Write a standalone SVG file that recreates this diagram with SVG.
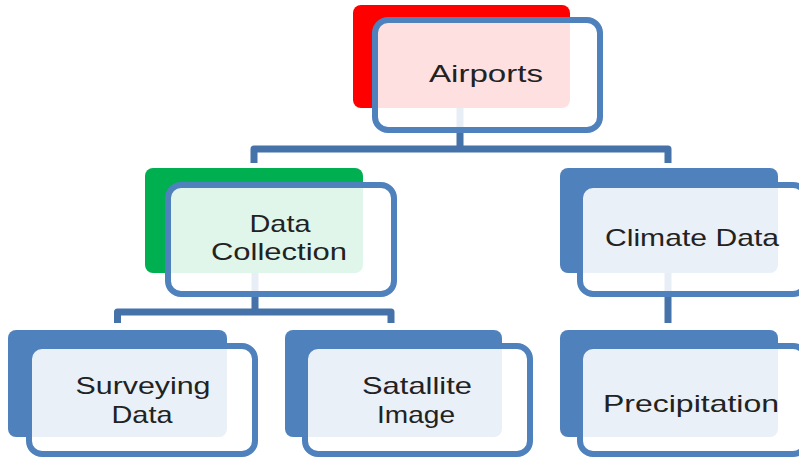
<svg xmlns="http://www.w3.org/2000/svg" width="799" height="463" viewBox="0 0 799 463">
<style>
.back{stroke:none}
.front{fill:#ffffff;fill-opacity:0.88;stroke:#4f81bd;stroke-width:6}
.lbl{font-family:"Liberation Sans",Arial,sans-serif;font-size:24px;fill:#222222;text-anchor:middle}
.conn{fill:none;stroke:#4572a9;stroke-width:7;stroke-linejoin:round}
</style>
<rect width="799" height="463" fill="#ffffff"/>
<g id="connectors">
<path class="conn" d="M460,108 V149 M254,163 V149 H668 V163"/>
<path class="conn" d="M255,273 V312 M117.5,323 V312 H391 V323"/>
<path class="conn" d="M668,273 V323"/>
</g>
<g id="airports">
<rect class="back" x="353" y="5" width="217" height="103" rx="8" fill="#ff0000"/>
<rect class="front" x="375" y="20" width="225" height="110" rx="13"/>
<text class="lbl" x="486" y="82" textLength="114" lengthAdjust="spacingAndGlyphs">Airports</text>
</g>
<g id="data-collection">
<rect class="back" x="145" y="168" width="218" height="105" rx="8" fill="#00b050"/>
<rect class="front" x="168" y="185" width="226" height="109" rx="13"/>
<text class="lbl" x="280" y="232" textLength="61" lengthAdjust="spacingAndGlyphs">Data</text>
<text class="lbl" x="279" y="260" textLength="136" lengthAdjust="spacingAndGlyphs">Collection</text>
</g>
<g id="climate-data">
<rect class="back" x="560" y="168" width="218" height="105" rx="8" fill="#4f81bd"/>
<rect class="front" x="580" y="185" width="226" height="109" rx="13"/>
<text class="lbl" x="692" y="246" textLength="174" lengthAdjust="spacingAndGlyphs">Climate Data</text>
</g>
<g id="surveying-data">
<rect class="back" x="8" y="330" width="219" height="107" rx="8" fill="#4f81bd"/>
<rect class="front" x="29" y="346" width="226" height="108" rx="13"/>
<text class="lbl" x="143" y="394" textLength="135" lengthAdjust="spacingAndGlyphs">Surveying</text>
<text class="lbl" x="142" y="423" textLength="61" lengthAdjust="spacingAndGlyphs">Data</text>
</g>
<g id="satallite-image">
<rect class="back" x="285" y="330" width="217" height="107" rx="8" fill="#4f81bd"/>
<rect class="front" x="305" y="346" width="225" height="108" rx="13"/>
<text class="lbl" x="417" y="394" textLength="110" lengthAdjust="spacingAndGlyphs">Satallite</text>
<text class="lbl" x="416" y="423" textLength="78" lengthAdjust="spacingAndGlyphs">Image</text>
</g>
<g id="precipitation">
<rect class="back" x="560" y="330" width="218" height="107" rx="8" fill="#4f81bd"/>
<rect class="front" x="580" y="346" width="226" height="108" rx="13"/>
<text class="lbl" x="691" y="412" textLength="176" lengthAdjust="spacingAndGlyphs">Precipitation</text>
</g>
</svg>
